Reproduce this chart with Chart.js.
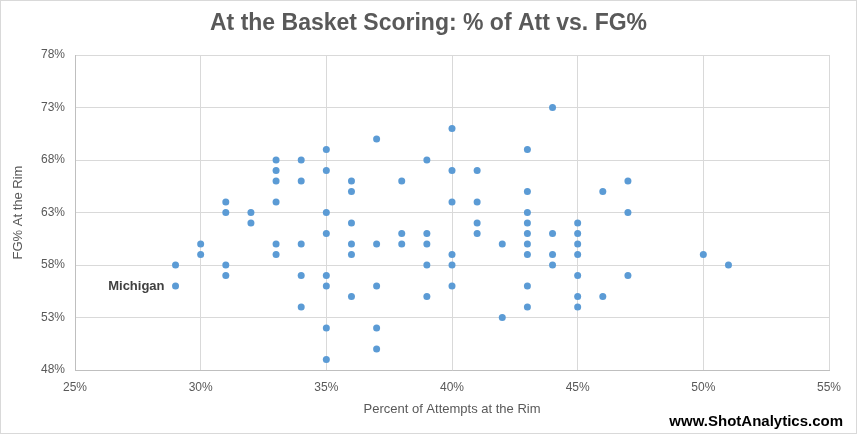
<!DOCTYPE html>
<html>
<head>
<meta charset="utf-8">
<script src="https://cdn.jsdelivr.net/npm/chart.js@4/dist/chart.umd.min.js"></script>
<style>
  html, body { margin: 0; padding: 0; background: #ffffff; }
  canvas { display: block; }
</style>
</head>
<body>
<canvas id="c" width="857" height="434"></canvas>
<script>
// Percent of attempts at the rim (x) and FG% at the rim (y), one entry per team
const attPct = [
  29, 29,
  30, 30,
  31, 31, 31, 31,
  32, 32,
  33, 33, 33, 33, 33, 33,
  34, 34, 34, 34, 34,
  35, 35, 35, 35, 35, 35, 35, 35,
  36, 36, 36, 36, 36, 36,
  37, 37, 37, 37, 37,
  38, 38, 38,
  39, 39, 39, 39, 39,
  40, 40, 40, 40, 40, 40,
  41, 41, 41, 41,
  42, 42,
  43, 43, 43, 43, 43, 43, 43, 43, 43,
  44, 44, 44, 44,
  45, 45, 45, 45, 45, 45, 45,
  46, 46,
  47, 47, 47,
  50,
  51
];
const fgPct = [
  58, 56,
  60, 59,
  64, 63, 58, 57,
  63, 62,
  68, 67, 66, 64, 60, 59,
  68, 66, 60, 57, 54,
  69, 67, 63, 61, 57, 56, 52, 49,
  66, 65, 62, 60, 59, 55,
  70, 60, 56, 52, 50,
  66, 61, 60,
  68, 61, 60, 58, 55,
  71, 67, 64, 59, 58, 56,
  67, 64, 62, 61,
  60, 53,
  69, 65, 63, 62, 61, 60, 59, 56, 54,
  73, 61, 59, 58,
  62, 61, 60, 59, 57, 55, 54,
  65, 55,
  66, 63, 57,
  59,
  58
];
const xTicks = [25, 30, 35, 40, 45, 50, 55];
const yTicks = [48, 53, 58, 63, 68, 73, 78];
const labelledPoint = { x: 29, y: 56, text: 'Michigan' };

const titleText = 'At the Basket Scoring: % of Att vs. FG%';
const xTitle = 'Percent of Attempts at the Rim';
const yTitle = 'FG% At the Rim';
const watermark = 'www.ShotAnalytics.com';

const points = attPct.map((x, i) => ({ x: x, y: fgPct[i] }));
const FONT = "'Liberation Sans', Arial, sans-serif";

const decor = {
  id: 'decor',
  beforeDraw(chart) {
    const ctx = chart.ctx;
    ctx.save();
    ctx.fillStyle = '#ffffff';
    ctx.fillRect(0, 0, chart.width, chart.height);
    ctx.restore();
  },
  afterDraw(chart) {
    const ctx = chart.ctx;
    ctx.save();
    // outer border
    ctx.strokeStyle = '#d9d9d9';
    ctx.lineWidth = 1;
    ctx.strokeRect(0.5, 0.5, chart.width - 1, chart.height - 1);
    // title
    ctx.fillStyle = '#595959';
    ctx.font = 'bold 23px ' + FONT;
    ctx.textAlign = 'center';
    ctx.textBaseline = 'middle';
    ctx.fillText(titleText, chart.width / 2, 24);
    // watermark
    ctx.fillStyle = '#000000';
    ctx.font = 'bold 15px ' + FONT;
    ctx.textAlign = 'right';
    ctx.fillText(watermark, chart.width - 14, 422);
    // data label
    const meta = chart.getDatasetMeta(0);
    const idx = points.findIndex(p => p.x === labelledPoint.x && p.y === labelledPoint.y);
    if (idx >= 0) {
      const el = meta.data[idx];
      ctx.fillStyle = '#404040';
      ctx.font = 'bold 13px ' + FONT;
      ctx.textAlign = 'right';
      ctx.fillText(labelledPoint.text, el.x - 11, el.y);
    }
    ctx.restore();
  }
};

new Chart(document.getElementById('c'), {
  type: 'scatter',
  data: {
    datasets: [{
      data: points,
      backgroundColor: '#5b9bd5',
      borderColor: '#5b9bd5',
      borderWidth: 0,
      pointRadius: 3.5,
      pointHoverRadius: 3.5
    }]
  },
  options: {
    responsive: false,
    animation: false,
    devicePixelRatio: 1,
    layout: { padding: { left: 0, right: 28, top: 55, bottom: 0 } },
    plugins: {
      legend: { display: false },
      tooltip: { enabled: false },
      title: { display: false }
    },
    scales: {
      x: {
        type: 'linear',
        min: xTicks[0],
        max: xTicks[xTicks.length - 1],
        afterBuildTicks: s => { s.ticks = xTicks.map(v => ({ value: v })); },
        afterFit: s => { s.height = 64; },
        grid: { color: '#d9d9d9', drawTicks: false },
        border: { color: '#bfbfbf' },
        ticks: {
          padding: 10,
          color: '#595959',
          font: { family: FONT, size: 12 },
          callback: v => v + '%',
          maxRotation: 0
        },
        title: {
          display: true,
          text: xTitle,
          color: '#595959',
          font: { family: FONT, size: 13 },
          padding: { top: 0, bottom: 17 }
        }
      },
      y: {
        type: 'linear',
        min: yTicks[0],
        max: yTicks[yTicks.length - 1],
        afterBuildTicks: s => { s.ticks = yTicks.map(v => ({ value: v })); },
        afterFit: s => { s.width = 75; },
        grid: { color: '#d9d9d9', drawTicks: false },
        border: { color: '#bfbfbf' },
        ticks: {
          padding: 10,
          color: '#595959',
          font: { family: FONT, size: 12 },
          callback: v => v + '%'
        },
        title: {
          display: true,
          text: yTitle,
          color: '#595959',
          font: { family: FONT, size: 13 },
          padding: { top: 11, bottom: 0 }
        }
      }
    }
  },
  plugins: [decor]
});
</script>
</body>
</html>
